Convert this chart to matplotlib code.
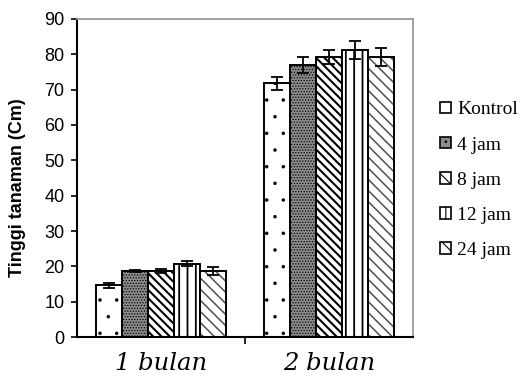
import numpy as np
import matplotlib.pyplot as plt
from matplotlib.patches import Patch

categories = ['1 bulan', '2 bulan']
series = ['Kontrol', '4 jam', '8 jam', '12 jam', '24 jam']
means = {
    'Kontrol': [14.6, 71.8],
    '4 jam': [18.7, 77.0],
    '8 jam': [18.7, 79.2],
    '12 jam': [20.8, 81.2],
    '24 jam': [18.7, 79.2],
}
errors = {
    'Kontrol': [0.8, 1.8],
    '4 jam': [0.2, 2.3],
    '8 jam': [0.6, 2.0],
    '12 jam': [0.7, 2.5],
    '24 jam': [1.1, 2.5],
}
y_ticks = list(range(0, 100, 10))

# fill colour, hatch, hatch colour, hatch linewidth
styles = {
    'Kontrol': ('white', '.', 'black', 0.1),
    '4 jam': ('#8c8c8c', '......', 'black', 0.6),
    '8 jam': ('white', '\\\\\\\\', 'black', 1.5),
    '12 jam': ('white', '||', 'black', 1.3),
    '24 jam': ('white', '\\\\\\', '#505050', 1.1),
}

plt.rcParams['font.family'] = ['Liberation Sans', 'DejaVu Sans']

fig = plt.figure(figsize=(5.22, 3.76), dpi=100)
ax = fig.add_axes([0.1475, 0.1037, 0.791 - 0.1475, 0.9495 - 0.1037])

x = np.arange(len(categories))
w = 0.154
for i, s in enumerate(series):
    fc, hatch, hc, hlw = styles[s]
    pos = x + (i - 2) * w
    plt.rcParams['hatch.linewidth'] = hlw
    bars = ax.bar(pos, means[s], width=w, facecolor=fc, edgecolor=hc,
                  linewidth=0, hatch=hatch, zorder=2)
    for b in bars:
        if hasattr(b, 'set_hatch_linewidth'):
            b.set_hatch_linewidth(hlw)
    ax.bar(pos, means[s], width=w, fill=False, edgecolor='black',
           linewidth=1.4, zorder=2.5)
    ax.errorbar(pos, means[s], yerr=errors[s], fmt='none', ecolor='black',
                elinewidth=1.3, capsize=4.5, capthick=1.3, zorder=3)

ax.set_xlim(-0.5, 1.5)
ax.set_ylim(0, 90)
ax.set_yticks(y_ticks)
ax.tick_params(axis='y', labelsize=13, direction='out', length=4, width=1.2, pad=5)
ax.set_xticks(x)
ax.set_xticklabels(categories, fontsize=17.5, style='italic', family='DejaVu Serif')
ax.tick_params(axis='x', length=0, pad=11)
ax.set_xticks([0.5], minor=True)
ax.tick_params(axis='x', which='minor', direction='out', length=5, width=1.2)

ax.set_ylabel('Tinggi tanaman (Cm)', fontsize=13, fontweight='bold')
ax.yaxis.set_label_coords(-0.152, 0.47)

for sp in ['left', 'bottom']:
    ax.spines[sp].set_linewidth(1.5)
    ax.spines[sp].set_color('black')
for sp in ['top', 'right']:
    ax.spines[sp].set_linewidth(1.3)
    ax.spines[sp].set_color('#9a9a9a')

plt.rcParams['hatch.linewidth'] = 0.8
handles = [Patch(facecolor=styles[s][0], hatch=styles[s][1][:2], edgecolor='black',
                 linewidth=1.2, label=s) for s in series]
fig.legend(handles=handles, loc='center left', bbox_to_anchor=(0.828, 0.521),
           frameon=False, prop={'family': 'Liberation Serif', 'size': 14},
           handlelength=0.55, handleheight=0.55, handletextpad=0.35,
           labelspacing=0.93, borderaxespad=0)

fig.savefig('out.png', dpi=100)
